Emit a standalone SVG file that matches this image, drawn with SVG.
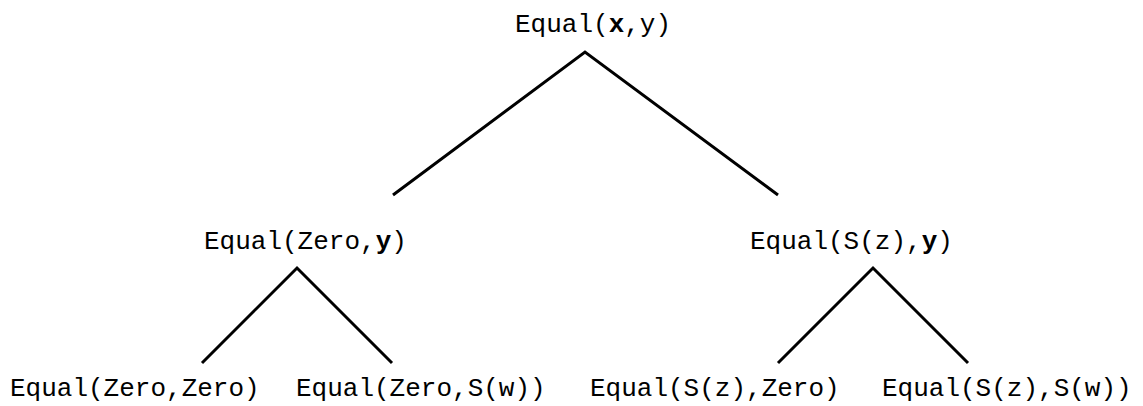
<svg xmlns="http://www.w3.org/2000/svg" width="1143" height="406" viewBox="0 0 1143 406">
<style>
text{font-family:"Liberation Mono","Courier New",monospace;font-size:26px;fill:#000}
.b{font-weight:bold}
.e{stroke:#000;stroke-width:3;fill:none}
</style>
<rect width="1143" height="406" fill="#fff"/>
<g id="connectors">
<path class="e" d="M393,195 L585,52 L778,195"/>
<path class="e" d="M202,363 L297,268 L392,363"/>
<path class="e" d="M778,363 L873,268 L968,363"/>
</g>
<g id="root"><text x="515" y="32">Equal(<tspan class="b">x</tspan>,y)</text></g>
<g id="left"><text x="204" y="249">Equal(Zero,<tspan class="b">y</tspan>)</text></g>
<g id="right"><text x="750" y="249">Equal(S(z),<tspan class="b">y</tspan>)</text></g>
<g id="ll"><text x="10" y="396">Equal(Zero,Zero)</text></g>
<g id="lr"><text x="296" y="396">Equal(Zero,S(w))</text></g>
<g id="rl"><text x="590" y="396">Equal(S(z),Zero)</text></g>
<g id="rr"><text x="882" y="396">Equal(S(z),S(w))</text></g>
</svg>
